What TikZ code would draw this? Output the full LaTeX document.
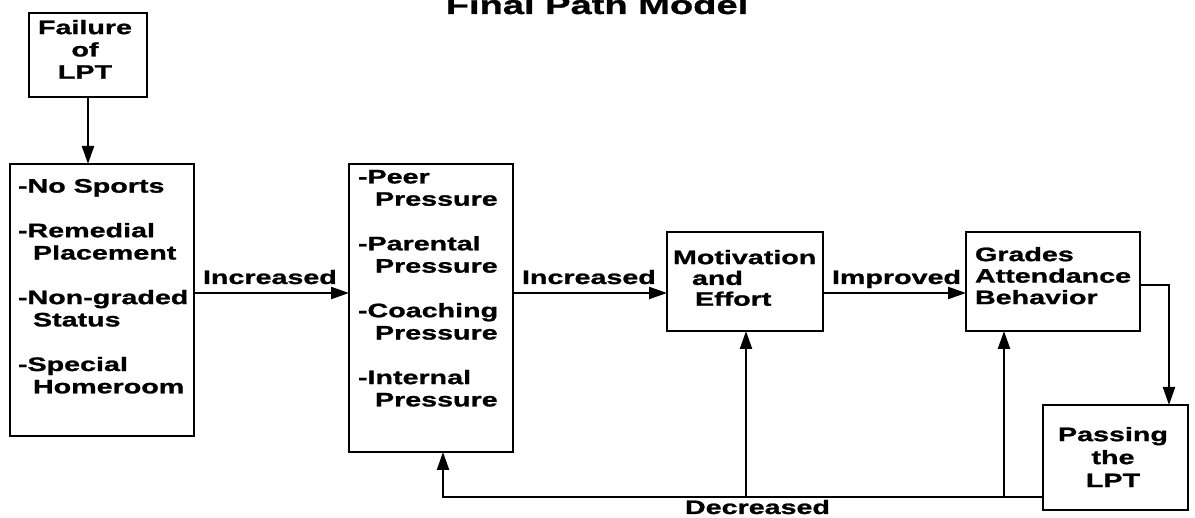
\documentclass[tikz,border=0pt]{standalone}
\usepackage{fontspec}
\setmainfont{Liberation Sans}[FakeStretch=1.47, FakeBold=1.2]
\usetikzlibrary{arrows.meta}
\tikzset{
  box/.style={draw, line width=2.8pt, rectangle, inner sep=0pt, outer sep=0pt, anchor=north west},
  txt/.style={inner sep=0pt, outer sep=0pt, font=\bfseries\fontsize{19.5}{22.3}\selectfont, align=left},
  arr/.style={line width=2.2pt, -{Triangle[length=18pt,width=12pt]}},
}
\begin{document}
\begin{tikzpicture}[x=1pt,y=-1pt]
\useasboundingbox (0,0) rectangle (1195,518);
% title
\node[txt, font=\bfseries\fontsize{25.9}{30}\selectfont, anchor=base] (title) at (597,14) {Final Path Model};
% boxes
\node[box, minimum width=118pt, minimum height=84pt] (fail) at (29,13) {};
\node[box, minimum width=184pt, minimum height=272pt] (left) at (10,164) {};
\node[box, minimum width=164pt, minimum height=288pt] (press) at (349,164) {};
\node[box, minimum width=156pt, minimum height=99pt] (motiv) at (667,232) {};
\node[box, minimum width=174pt, minimum height=99pt] (grades) at (966,232) {};
\node[box, minimum width=145pt, minimum height=105pt] (pass) at (1043,405) {};
% texts
\node[txt, align=center, anchor=north] (failt) at (85,20) {Failure\\of\\LPT};
\node[txt, anchor=north west] (leftt) at (18,179) {-No Sports\\[22.3pt]-Remedial\\\hspace*{15pt}Placement\\[22.3pt]-Non-graded\\\hspace*{15pt}Status\\[22.3pt]-Special\\\hspace*{15pt}Homeroom};
\node[txt, anchor=north west] (presst) at (358,170) {-Peer\\\hspace*{17pt}Pressure\\[22.3pt]-Parental\\\hspace*{17pt}Pressure\\[22.3pt]-Coaching\\\hspace*{17pt}Pressure\\[22.3pt]-Internal\\\hspace*{17pt}Pressure};
\node[txt, font=\bfseries\fontsize{19.5}{20.8}\selectfont, anchor=north west] (motivt) at (673,250) {Motivation\\\hspace*{19pt}and\\\hspace*{22pt}Effort};
\node[txt, font=\bfseries\fontsize{19.5}{21.5}\selectfont, anchor=north west] (gradest) at (975,247) {Grades\\Attendance\\Behavior};
\node[txt, font=\bfseries\fontsize{19.5}{23}\selectfont, align=center, anchor=north] (passt) at (1113,427) {Passing\\the\\LPT};
% labels
\node[txt, anchor=base west] (l1) at (203,284) {Increased};
\node[txt, anchor=base west] (l2) at (522,284) {Increased};
\node[txt, anchor=base west] (l3) at (832,284) {Improved};
\node[txt, anchor=base west] (l4) at (685,514) {Decreased};
% coordinates
\coordinate (row) at (0,293);
\coordinate (gr) at (1169,285);
\coordinate (fx) at (443,497);
\coordinate (m1) at (746,497);
\coordinate (g1) at (1004,497);
% connectors
\draw[arr] (fail.south) -- (fail.south |- left.north);
\draw[arr] (left.east |- row) -- (press.west |- row);
\draw[arr] (press.east |- row) -- (motiv.west |- row);
\draw[arr] (motiv.east |- row) -- (grades.west |- row);
\draw[arr] (grades.east |- gr) -- (gr) -- (gr |- pass.north);
\draw[arr] (pass.west |- fx) -- (fx) -- (fx |- press.south);
\draw[arr] (m1) -- (m1 |- motiv.south);
\draw[arr] (g1) -- (g1 |- grades.south);
\end{tikzpicture}
\end{document}
